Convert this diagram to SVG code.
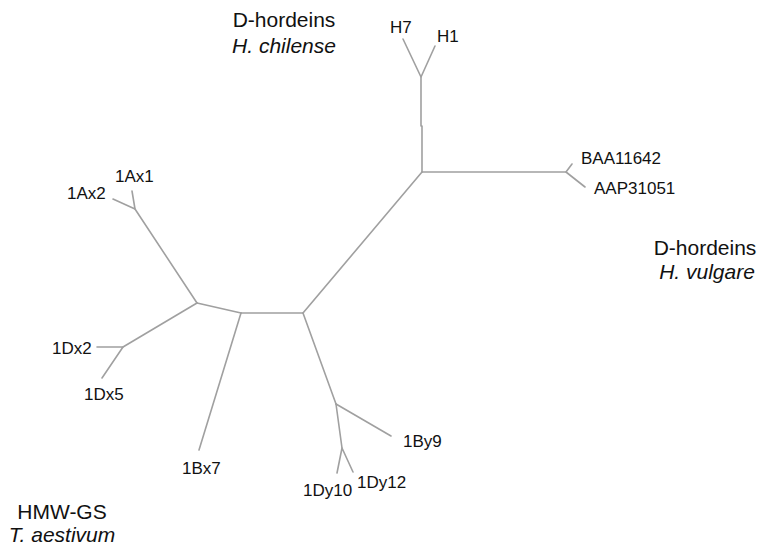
<svg xmlns="http://www.w3.org/2000/svg" width="762" height="550" viewBox="0 0 762 550">
<style>
.e{fill:none;stroke:#a0a0a0;stroke-width:1.6;stroke-linecap:round;stroke-linejoin:round}
.l{font-family:"Liberation Sans",Arial,sans-serif;font-size:17px;fill:#111}
.g{font-family:"Liberation Sans",Arial,sans-serif;font-size:21px;fill:#111;text-anchor:middle}
.i{font-style:italic}
</style>
<rect width="762" height="550" fill="#fff"/>
<g id="connectors">
<polyline class="e" points="403,39 421,77 435,46"/>
<polyline class="e" points="421,77 421,126 422,126 422,172"/>
<polyline class="e" points="422,172 566,172"/>
<polyline class="e" points="572,164 566,172 585,187"/>
<polyline class="e" points="422,172 303,313"/>
<polyline class="e" points="303,313 241,313"/>
<polyline class="e" points="241,313 197,303"/>
<polyline class="e" points="197,303 135,209"/>
<polyline class="e" points="113,199 135,209 132,191"/>
<polyline class="e" points="197,303 123,347"/>
<polyline class="e" points="97,347 123,347 102,378"/>
<polyline class="e" points="241,313 199,450"/>
<polyline class="e" points="303,313 336,404"/>
<polyline class="e" points="336,404 391,436"/>
<polyline class="e" points="336,404 342,448"/>
<polyline class="e" points="337,473 342,448 353,472"/>
</g>
<g id="H7"><text class="l" x="390" y="33">H7</text></g>
<g id="H1"><text class="l" x="437" y="42">H1</text></g>
<g id="BAA11642"><text class="l" x="581" y="164">BAA11642</text></g>
<g id="AAP31051"><text class="l" x="594" y="194">AAP31051</text></g>
<g id="1Ax1"><text class="l" x="115" y="182">1Ax1</text></g>
<g id="1Ax2"><text class="l" x="67" y="199">1Ax2</text></g>
<g id="1Dx2"><text class="l" x="52" y="354">1Dx2</text></g>
<g id="1Dx5"><text class="l" x="84" y="400">1Dx5</text></g>
<g id="1Bx7"><text class="l" x="182" y="474">1Bx7</text></g>
<g id="1By9"><text class="l" x="403" y="447">1By9</text></g>
<g id="1Dy10"><text class="l" x="303" y="496">1Dy10</text></g>
<g id="1Dy12"><text class="l" x="357" y="488">1Dy12</text></g>
<g id="group-chilense">
<text class="g" x="284" y="27">D-hordeins</text>
<text class="g i" x="284" y="53">H. chilense</text>
</g>
<g id="group-vulgare">
<text class="g" x="705" y="255">D-hordeins</text>
<text class="g i" x="707" y="279">H. vulgare</text>
</g>
<g id="group-aestivum">
<text class="g" x="62" y="519">HMW-GS</text>
<text class="g i" x="62" y="542">T. aestivum</text>
</g>
</svg>
